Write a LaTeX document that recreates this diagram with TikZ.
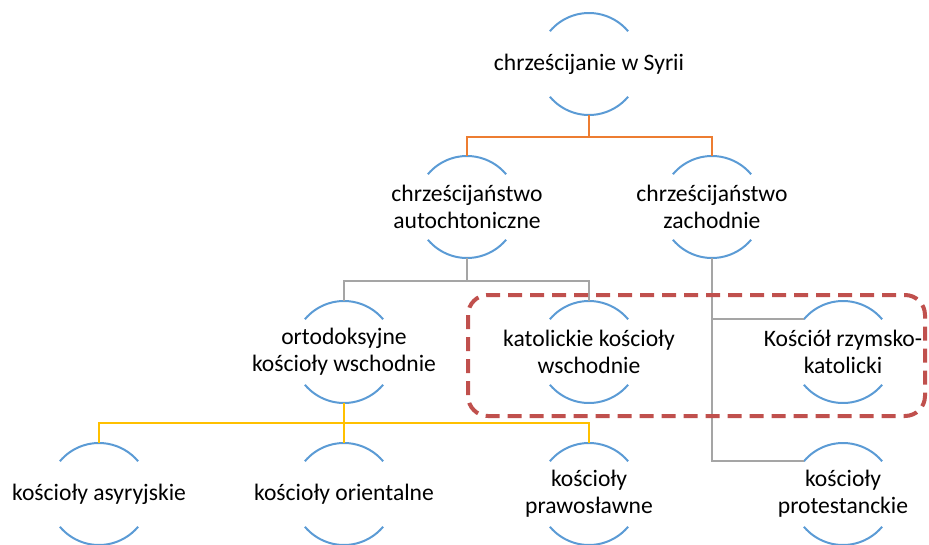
\documentclass[tikz,border=0pt]{standalone}
\usepackage{fontspec}
\setmainfont{Carlito}
\usepackage{tikz}
\usetikzlibrary{positioning}

\newcommand{\lbl}{\fontsize{23.6}{27}\selectfont}
\definecolor{ringblue}{HTML}{5B9BD5}
\definecolor{lineorange}{HTML}{ED7D31}
\definecolor{linegray}{HTML}{A5A5A5}
\definecolor{lineyellow}{HTML}{FFC000}
\definecolor{groupred}{HTML}{C0504D}

\begin{document}
\begin{tikzpicture}[x=1pt,y=1pt,node distance=245pt,
  ring/.style={rectangle,minimum height=102pt,inner sep=0pt,align=center,font=\lbl},
  arcline/.style={ringblue,line width=2pt},
  link/.style={line width=2.4pt}]
  \useasboundingbox (0,0) rectangle (929,-544);

  \node[ring] (a3) at (99,-494) {kościoły asyryjskie};
  \node[ring] (o3) [right of=a3] {kościoły orientalne};
  \node[ring] (p3) [right of=o3] {kościoły\\prawosławne};
  \node[ring] (t3) at (843,-494) {kościoły\\protestanckie};

  \node[ring] (o2) [above of=o3,node distance=142pt] {ortodoksyjne\\kościoły wschodnie};
  \node[ring] (k2) [above of=p3,node distance=142pt] {katolickie kościoły\\wschodnie};
  \node[ring] (r2) [above of=t3,node distance=142pt] {Kościół rzymsko-\\katolicki};

  \node[ring] (a1) at (467,-207) {chrześcijaństwo\\autochtoniczne};
  \node[ring] (w1) at (712,-207) {chrześcijaństwo\\zachodnie};

  \node[ring] (s0) at (589,-64) {chrześcijanie w Syrii};

  % arcs round every node
  \foreach \n in {s0,a1,w1,o2,k2,r2,a3,o3,p3,t3}{
    \draw[arcline] ([shift={(140:51)}]\n.center) arc[start angle=140,end angle=40,radius=51];
    \draw[arcline] ([shift={(220:51)}]\n.center) arc[start angle=220,end angle=320,radius=51];
  }

  % connectors
  \draw[link,lineorange] (s0.south) -- ++(0,-22) -| (a1.north);
  \draw[link,lineorange] (s0.south) -- ++(0,-22) -| (w1.north);

  \draw[link,linegray] (a1.south) -- ++(0,-23) -| (o2.north);
  \draw[link,linegray] (a1.south) -- ++(0,-23) -| (k2.north);
  \draw[link,linegray] (w1.south) |- ([shift={(140:51)}]r2.center);
  \draw[link,linegray] (w1.south) |- ([shift={(140:51)}]t3.center);

  \draw[link,lineyellow] (o2.south) -- ++(0,-20) -| (a3.north);
  \draw[link,lineyellow] (o2.south) -- ++(0,-20) -| (o3.north);
  \draw[link,lineyellow] (o2.south) -- ++(0,-20) -| (p3.north);

  % catholic group
  \draw[groupred,line width=4pt,dash pattern=on 14pt off 8pt,rounded corners=20pt]
    (468,-295) rectangle (925,-416);
\end{tikzpicture}
\end{document}
